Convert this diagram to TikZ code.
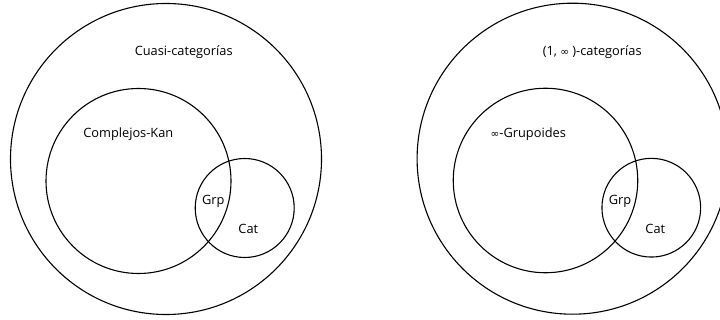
\documentclass[tikz,border=0pt]{standalone}
\usepackage{fontspec}
\setmainfont{Open Sans}
\newfontfamily\symfont{DejaVu Sans}
\begin{document}
\begin{tikzpicture}[x=1pt,y=-1pt,
  set/.style={draw=black,line width=1.1pt,circle,inner sep=0pt},
  lab/.style={font=\fontsize{12.8}{15}\selectfont,inner sep=0pt}]
\useasboundingbox (0,0) rectangle (720,320);
\clip (0,0) rectangle (720,320);
% left diagram
\node[set,minimum size=311pt] (L1) at (166,159) {};
\node[set,minimum size=185pt] (L2) at (138.5,181) {};
\node[set,minimum size=99pt] (L3) at (244.7,208) {};
\node[lab] (Lt1) at (183.7,52) {Cuasi-categorías};
\node[lab] (Lt2) at (128.3,134) {Complejos-Kan};
\node[lab] (Lt3) at (213.3,201) {Grp};
\node[lab] (Lt4) at (248.3,229.3) {Cat};
% right diagram
\node[set,minimum size=311pt] (R1) at (572.6,158.7) {};
\node[set,minimum size=184.5pt] (R2) at (545.5,180.5) {};
\node[set,minimum size=98.7pt] (R3) at (651.3,207.7) {};
\node[lab] (Rt1) at (592.2,52) {(1, {\symfont\fontsize{10.5}{12}\selectfont ∞} )-categorías};
\node[lab] (Rt2) at (528.3,134) {{\symfont\fontsize{10.5}{12}\selectfont ∞}-Grupoides};
\node[lab] (Rt3) at (620,201) {Grp};
\node[lab] (Rt4) at (655.3,229) {Cat};
\end{tikzpicture}
\end{document}
